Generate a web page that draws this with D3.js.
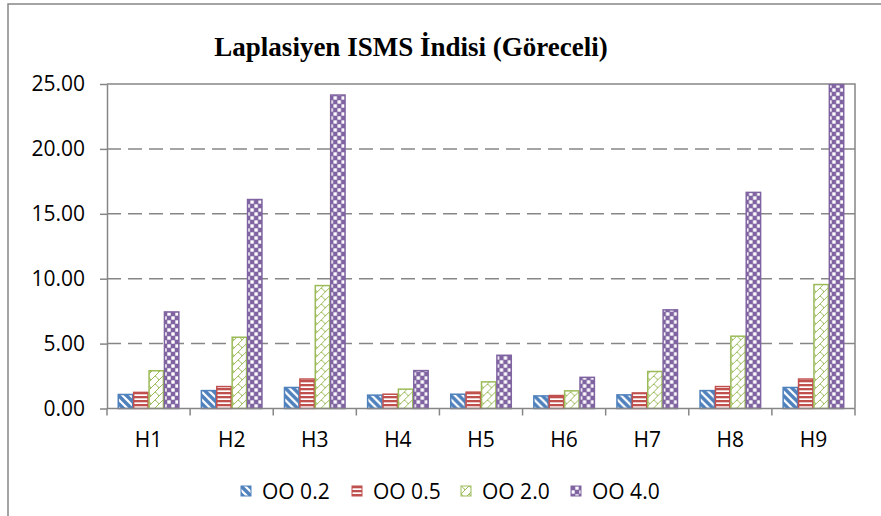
<!DOCTYPE html>
<html>
<head>
<meta charset="utf-8">
<script src="https://cdn.jsdelivr.net/npm/d3@7"></script>
<style>
  html, body { margin: 0; padding: 0; background: #fff; }
  svg { display: block; }
</style>
</head>
<body>
<svg id="chart" width="881" height="516"></svg>
<script>
// Laplacian ISMS index (relative) per group H1..H9, four OO levels
const categories = ["H1", "H2", "H3", "H4", "H5", "H6", "H7", "H8", "H9"];
const seriesNames = ["OO 0.2", "OO 0.5", "OO 2.0", "OO 4.0"];
const oo02 = [1.08, 1.38, 1.62, 1.03, 1.10, 0.97, 1.05, 1.38, 1.62];
const oo05 = [1.24, 1.69, 2.27, 1.10, 1.26, 1.00, 1.20, 1.69, 2.27];
const oo20 = [2.91, 5.49, 9.47, 1.49, 2.05, 1.36, 2.85, 5.57, 9.55];
const oo40 = [7.44, 16.10, 24.15, 2.92, 4.10, 2.40, 7.60, 16.65, 24.95];
const yTicks = [0, 5, 10, 15, 20, 25];
const titleText = "Laplasiyen ISMS İndisi (Göreceli)";

const seriesValues = [oo02, oo05, oo20, oo40];
const colors = ["#4F81BD", "#C0504D", "#9BBB59", "#8064A2"];

const svg = d3.select("#chart");
const defs = svg.append("defs");

// Fill patterns for each series
function makePattern(id, w, h, bg, draw) {
  const p = defs.append("pattern")
    .attr("id", id)
    .attr("patternUnits", "userSpaceOnUse")
    .attr("width", w).attr("height", h);
  p.append("rect").attr("width", w).attr("height", h).attr("fill", bg);
  draw(p);
}
// wide downward diagonal
makePattern("pat0", 8, 8, "#fff", p => {
  p.append("path")
    .attr("d", "M-2,-2 L10,10 M-6,2 L2,10 M6,-2 L14,6")
    .attr("stroke", colors[0]).attr("stroke-width", 3.4);
});
// horizontal stripes
makePattern("pat1", 4, 4, "#fff", p => {
  p.append("rect").attr("x", 0).attr("y", 0).attr("width", 4).attr("height", 2.3)
    .attr("fill", colors[1]);
});
// shingle / zigzag
makePattern("pat2", 8, 8, "#fff", p => {
  p.append("path")
    .attr("d", "M0,8 L8,0 M0,0 Q3,2 4,4")
    .attr("stroke", colors[2]).attr("stroke-width", 1).attr("fill", "none");
});
// large checkerboard
makePattern("pat3", 8, 8, colors[3], p => {
  p.append("rect").attr("x", 4.3).attr("y", 0.3).attr("width", 3.4).attr("height", 3.4).attr("fill", "#fff");
  p.append("rect").attr("x", 0.3).attr("y", 4.3).attr("width", 3.4).attr("height", 3.4).attr("fill", "#fff");
});

// outer chart frame
svg.append("rect")
  .attr("x", 8).attr("y", 4)
  .attr("width", 900).attr("height", 600)
  .attr("fill", "none").attr("stroke", "#868686").attr("stroke-width", 1.5);

const plot = { left: 107, right: 855, top: 84, bottom: 408.5 };

const x0 = d3.scaleBand().domain(categories).range([plot.left, plot.right]).padding(0);
const x1 = d3.scaleBand().domain(seriesNames).range([0, x0.bandwidth()])
  .paddingInner(0).paddingOuter(0.7);
const y = d3.scaleLinear().domain([0, 25]).range([plot.bottom, plot.top]);

// dashed gridlines
svg.append("g")
  .selectAll("line")
  .data(yTicks.filter(t => t > 0 && t < 25))
  .join("line")
  .attr("x1", plot.left).attr("x2", plot.right)
  .attr("y1", d => y(d)).attr("y2", d => y(d))
  .attr("stroke", "#868686").attr("stroke-width", 1.5)
  .attr("stroke-dasharray", "14,7");

// plot-area top and right border
svg.append("path")
  .attr("d", `M${plot.left},${y(25)} H${plot.right} V${plot.bottom}`)
  .attr("fill", "none").attr("stroke", "#868686").attr("stroke-width", 1.5);

// bars
const groups = svg.append("g")
  .selectAll("g")
  .data(categories)
  .join("g")
  .attr("transform", d => `translate(${x0(d)},0)`);

groups.selectAll("rect")
  .data((c, ci) => seriesNames.map((s, si) => ({ s, si, v: seriesValues[si][ci] })))
  .join("rect")
  .attr("x", d => x1(d.s) + 0.5)
  .attr("width", x1.bandwidth() - 1)
  .attr("y", d => y(d.v))
  .attr("height", d => y(0) - y(d.v))
  .attr("fill", d => `url(#pat${d.si})`)
  .attr("stroke", d => colors[d.si])
  .attr("stroke-width", 1.5);

const labelFont = "'Open Sans', sans-serif";
const labelSize = 21;

// y axis
const yAxis = svg.append("g")
  .attr("transform", `translate(${plot.left},0)`)
  .call(d3.axisLeft(y).tickValues(yTicks).tickFormat(d3.format(".2f")).tickSize(7).tickSizeOuter(0));
yAxis.select(".domain").attr("stroke", "#868686").attr("stroke-width", 1.5);
yAxis.selectAll(".tick line").attr("stroke", "#868686").attr("stroke-width", 1.5);
yAxis.selectAll(".tick text")
  .attr("x", -22)
  .attr("font-family", labelFont)
  .attr("font-size", labelSize)
  .attr("fill", "#000");

// x axis with ticks at category boundaries
const xAxis = svg.append("g")
  .attr("transform", `translate(0,${plot.bottom})`);
xAxis.append("line")
  .attr("x1", plot.left).attr("x2", plot.right)
  .attr("stroke", "#868686").attr("stroke-width", 1.5);
xAxis.selectAll("line.tk")
  .data(categories.map(c => x0(c)).concat([plot.right]))
  .join("line").attr("class", "tk")
  .attr("x1", d => d).attr("x2", d => d)
  .attr("y1", 0).attr("y2", 7)
  .attr("stroke", "#868686").attr("stroke-width", 1.5);
xAxis.selectAll("text")
  .data(categories)
  .join("text")
  .attr("x", d => x0(d) + x0.bandwidth() / 2)
  .attr("y", 38)
  .attr("text-anchor", "middle")
  .attr("font-family", labelFont)
  .attr("font-size", labelSize)
  .attr("fill", "#000")
  .text(d => d);

// title
svg.append("text")
  .attr("x", 411).attr("y", 56)
  .attr("text-anchor", "middle")
  .attr("font-family", "'Liberation Serif', 'Times New Roman', serif")
  .attr("font-weight", "bold")
  .attr("font-size", 27)
  .attr("fill", "#000")
  .text(titleText);

// legend
const legendX = [241, 352, 461, 571];
const legend = svg.append("g")
  .selectAll("g")
  .data(seriesNames)
  .join("g")
  .attr("transform", (d, i) => `translate(${legendX[i]},486)`);
legend.append("rect")
  .attr("width", 10).attr("height", 10)
  .attr("fill", (d, i) => `url(#pat${i})`)
  .attr("stroke", (d, i) => colors[i]).attr("stroke-width", 1);
legend.append("text")
  .attr("x", 21).attr("y", 5).attr("dy", "0.36em")
  .attr("font-family", labelFont)
  .attr("font-size", labelSize)
  .attr("fill", "#000")
  .text(d => d);
</script>
</body>
</html>
